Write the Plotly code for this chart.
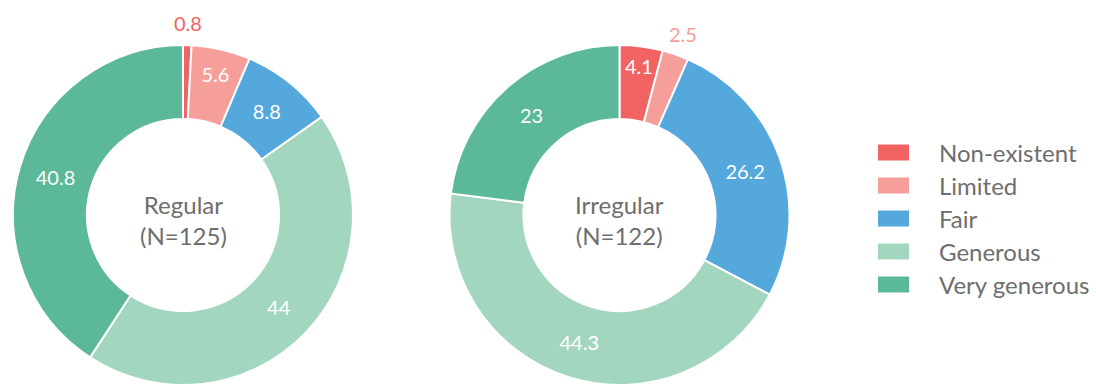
import math
import plotly.graph_objects as go

# Rating categories and their colours
categories = ["Non-existent", "Limited", "Fair", "Generous", "Very generous"]
colors = ["#F26363", "#F69F9A", "#55A8DC", "#A3D6BF", "#5BB898"]

# Share of respondents (%) per group
regular_values = [0.8, 5.6, 8.8, 44, 40.8]
irregular_values = [4.1, 2.5, 26.2, 44.3, 23]

# Group titles shown in the hole of each donut
regular_title = "Regular<br>(N=125)"
irregular_title = "Irregular<br>(N=122)"

# Label placement: tiny slices get their label outside the ring
regular_textpos = ["outside", "inside", "inside", "inside", "inside"]
irregular_textpos = ["inside", "outside", "inside", "inside", "inside"]

W, H = 1096, 385
FONT = "Lato"
GREY = "#6E6E6E"
LABEL_SIZE = 20

fig = go.Figure()
annotations = []
shapes = []


def clamp(v):
    return min(1.0, max(0.0, v))


def donut(values, title, positions, cx, cy, r):
    """Add one donut centred at pixel (cx, cy) with outer radius r."""
    fig.add_trace(go.Pie(
        labels=categories,
        values=values,
        hole=0.565,
        sort=False,
        direction="clockwise",
        rotation=0,
        marker=dict(colors=colors, line=dict(color="white", width=2)),
        texttemplate=["" if p == "outside" else "%{value}" for p in positions],
        textposition="inside",
        insidetextorientation="horizontal",
        textfont=dict(family=FONT, size=LABEL_SIZE, color="white"),
        domain=dict(x=[clamp((cx - r) / W), clamp((cx + r) / W)],
                    y=[clamp((H - cy - r) / H), clamp((H - cy + r) / H)]),
        showlegend=False,
        hoverinfo="label+value",
    ))
    # Title in the hole
    annotations.append(dict(
        text=title, x=cx / W, y=(H - cy) / H, xref="paper", yref="paper",
        xanchor="center", yanchor="middle", yshift=-5, showarrow=False,
        font=dict(family=FONT, size=24, color=GREY)))
    # Labels of thin slices sit just outside the ring at the slice mid-angle
    total = sum(values)
    cum = 0.0
    for v, p, col in zip(values, positions, colors):
        mid = (cum + v / 2) / total * 2 * math.pi
        cum += v
        if p != "outside":
            continue
        rl = r + 22
        lx = cx + rl * math.sin(mid)
        ly = cy - rl * math.cos(mid)
        annotations.append(dict(
            text=f"{v:g}", x=lx / W, y=(H - ly) / H, xref="paper", yref="paper",
            xanchor="center", yanchor="middle", showarrow=False,
            font=dict(family=FONT, size=LABEL_SIZE, color=col)))


donut(regular_values, regular_title, regular_textpos, 183, 215, 170)
donut(irregular_values, irregular_title, irregular_textpos, 619.5, 215, 170)

# Legend: wide swatch plus label for each category
LEG_X, LEG_Y0, LEG_STEP = 878, 152.5, 33
SW_W, SW_H = 31, 16
for i, (name, col) in enumerate(zip(categories, colors)):
    yc = LEG_Y0 + i * LEG_STEP
    shapes.append(dict(
        type="rect", xref="paper", yref="paper",
        x0=LEG_X / W, x1=(LEG_X + SW_W) / W,
        y0=(H - yc - SW_H / 2) / H, y1=(H - yc + SW_H / 2) / H,
        fillcolor=col, line=dict(width=0)))
    annotations.append(dict(
        text=name, x=(LEG_X + 59) / W, y=(H - yc) / H, xref="paper", yref="paper",
        xanchor="left", yanchor="middle", showarrow=False,
        font=dict(family=FONT, size=24, color=GREY)))

fig.update_layout(
    width=W, height=H,
    margin=dict(l=0, r=0, t=0, b=0),
    paper_bgcolor="white", plot_bgcolor="white",
    uniformtext=dict(minsize=LABEL_SIZE, mode="show"),
    showlegend=False,
    annotations=annotations,
    shapes=shapes,
    font=dict(family=FONT),
)

fig.write_html("out.html")
